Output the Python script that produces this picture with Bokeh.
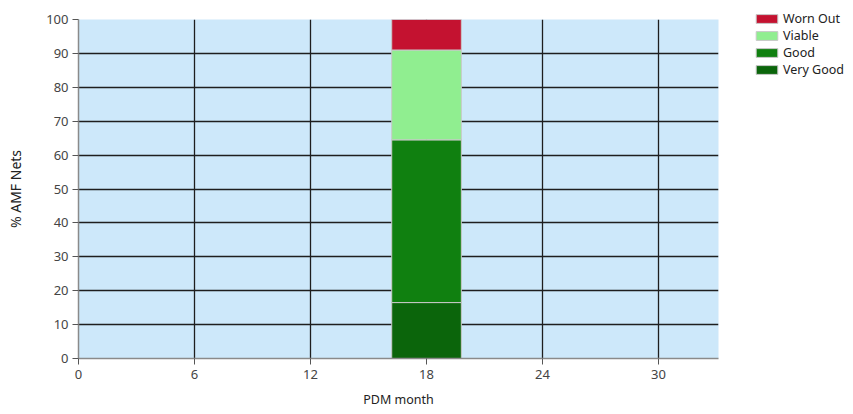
from bokeh.plotting import figure
from bokeh.models import Range1d, FixedTicker, Legend, LegendItem, ColumnDataSource
from bokeh.embed import file_html
from bokeh.resources import INLINE

# ---- data ----
months = [18]
very_good = [16.5]
good = [48.0]
viable = [26.5]
worn_out = [9.0]
series = ["very_good", "good", "viable", "worn_out"]
labels = ["Very Good", "Good", "Viable", "Worn Out"]
colors = ["#0B650B", "#108010", "#90EE90", "#C41230"]
x_ticks = [0, 6, 12, 18, 24, 30]
y_ticks = [0, 10, 20, 30, 40, 50, 60, 70, 80, 90, 100]

src = ColumnDataSource(dict(month=months, very_good=very_good, good=good,
                            viable=viable, worn_out=worn_out))

FONT = "Noto Sans"
p = figure(frame_width=640, frame_height=339, output_backend="svg", toolbar_location=None,
           x_range=Range1d(0, 33.1), y_range=Range1d(0, 100),
           min_border_left=78, min_border_top=19, min_border_right=135, min_border_bottom=56)
p.background_fill_color = "#CDE8FA"
p.border_fill_color = "white"
p.outline_line_color = None

renderers = p.vbar_stack(series, x="month", width=3.6, source=src, color=colors,
                         line_color="#C8C8C8", line_width=1)

p.xaxis.ticker = FixedTicker(ticks=x_ticks)
p.yaxis.ticker = FixedTicker(ticks=y_ticks)
for ax in (p.xaxis[0], p.yaxis[0]):
    ax.axis_line_color = "#8A8A8A"
    ax.axis_line_width = 1.5
    ax.major_tick_line_color = "#555555"
    ax.major_tick_in = 0
    ax.major_tick_out = 6
    ax.minor_tick_line_color = None
    ax.major_label_text_font = FONT
    ax.major_label_text_font_size = "13px"
    ax.major_label_text_color = "#444444"
    ax.axis_label_text_font = FONT
    ax.axis_label_text_font_style = "normal"
    ax.axis_label_text_color = "#222222"
p.xaxis.axis_label = "PDM month"
p.yaxis.axis_label = "% AMF Nets"
p.xaxis.axis_label_text_font_size = "12.5px"
p.yaxis.axis_label_text_font_size = "14px"
p.xaxis.major_label_standoff = 5
p.xaxis.axis_label_standoff = 9
p.yaxis.major_label_standoff = 4
p.yaxis.axis_label_standoff = 18

p.xgrid.ticker = FixedTicker(ticks=x_ticks[1:])
p.ygrid.ticker = FixedTicker(ticks=y_ticks[1:])
for g in (p.xgrid[0], p.ygrid[0]):
    g.grid_line_color = "#1E1E1E"
    g.grid_line_width = 1.3

items = [LegendItem(label=labels[i], renderers=[renderers[i]]) for i in (3, 2, 1, 0)]
legend = Legend(items=items, location=(35, 280), orientation="vertical",
                glyph_width=27, glyph_height=11, label_height=10, spacing=0,
                label_standoff=3, padding=0, margin=0,
                label_text_font=FONT, label_text_font_size="12.5px",
                label_text_color="#222222",
                border_line_color=None, background_fill_alpha=0)
p.add_layout(legend, "right")

open("out.html", "w").write(file_html(p, INLINE))
